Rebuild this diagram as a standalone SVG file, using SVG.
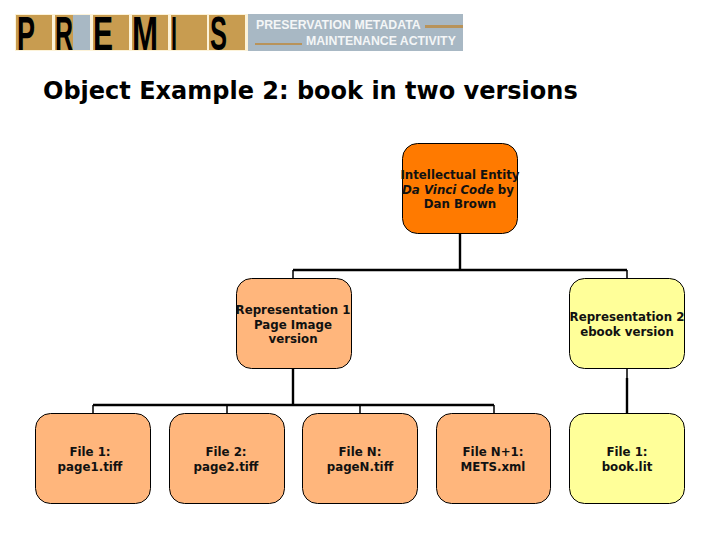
<svg xmlns="http://www.w3.org/2000/svg" width="720" height="540" viewBox="0 0 720 540">
<style>
.t{font-family:"DejaVu Sans",Verdana,sans-serif;font-weight:700;font-size:11.8px;text-anchor:middle;fill:#111}
.n{stroke:#000;stroke-width:1}
.a{fill:#ff7a00}.b{fill:#ffb67c}.c{fill:#ffff99}
.w{fill:none;stroke:#000;stroke-width:2.4}
.s{fill:none;stroke:#000;stroke-width:1.5}
.k{fill:#c89c50}.g{fill:#a8b8c4}
.l{font-family:"Liberation Sans",sans-serif;font-weight:700;fill:#000;font-size:48px}
.h{font-family:"Liberation Sans",Arial,sans-serif;font-weight:700;font-size:12.3px;fill:#f4f6f7}
</style>
<rect width="720" height="540" fill="#fff"/>
<g id="logo">
<rect x="15" y="14" width="233" height="37" fill="#fdf3d8"/>
<rect class="k" x="16" y="15" width="36" height="35"/>
<rect class="k" x="55" y="15" width="18" height="35"/>
<rect class="g" x="73" y="15" width="17" height="35"/>
<rect class="k" x="93" y="15" width="36" height="35"/>
<rect class="k" x="132" y="15" width="36" height="35"/>
<rect class="k" x="171" y="15" width="36" height="35"/>
<rect class="k" x="209" y="15" width="36" height="35"/>
<rect class="g" x="248" y="14" width="215" height="37"/>
<text class="l" x="17" y="50" textLength="18" lengthAdjust="spacingAndGlyphs">P</text>
<text class="l" x="55" y="50" textLength="18" lengthAdjust="spacingAndGlyphs">R</text>
<text class="l" x="93" y="50" textLength="20" lengthAdjust="spacingAndGlyphs">E</text>
<text class="l" x="132" y="50" textLength="26" lengthAdjust="spacingAndGlyphs">M</text>
<text class="l" x="171" y="50" textLength="6" lengthAdjust="spacingAndGlyphs">I</text>
<text class="l" x="210" y="50" textLength="17" lengthAdjust="spacingAndGlyphs">S</text>
<text class="h" x="256" y="29">PRESERVATION METADATA</text>
<text class="h" x="306" y="45">MAINTENANCE ACTIVITY</text>
<rect x="425" y="25" width="38" height="3" fill="#b8935a"/>
<rect x="255" y="43" width="47" height="2" fill="#b8935a"/>
</g>
<text id="title" x="43" y="99" font-family="DejaVu Sans,Verdana,sans-serif" font-weight="700" font-size="24px" fill="#000">Object Example 2: book in two versions</text>
<g id="connectors">
<path class="w" d="M460 233V270M293 270H627M293 368V405M93 405H494M627 378V413"/>
<path class="s" d="M293 270V278M627 270V278M93 405V413M227 405V413M360 405V413M494 405V413M627 369V378"/>
</g>
<g id="n0"><rect class="n a" x="402.500" y="143.500" width="115" height="90" rx="15"/><text class="t" x="460" y="179">Intellectual Entity</text><text class="t" x="458" y="194"><tspan font-style="italic">Da Vinci Code</tspan> by</text><text class="t" x="460" y="208">Dan Brown</text></g>
<g id="n1"><rect class="n b" x="236.500" y="278.500" width="115" height="90" rx="15"/><text class="t" x="293" y="314">Representation 1</text><text class="t" x="293" y="329">Page Image</text><text class="t" x="293" y="343">version</text></g>
<g id="n2"><rect class="n c" x="569.500" y="278.500" width="115" height="90" rx="15"/><text class="t" x="627" y="321">Representation 2</text><text class="t" x="627" y="336">ebook version</text></g>
<g id="f1"><rect class="n b" x="35.500" y="413.500" width="115" height="90" rx="15"/><text class="t" x="90" y="456">File 1:</text><text class="t" x="90" y="471">page1.tiff</text></g>
<g id="f2"><rect class="n b" x="169.500" y="413.500" width="115" height="90" rx="15"/><text class="t" x="226" y="456">File 2:</text><text class="t" x="226" y="471">page2.tiff</text></g>
<g id="f3"><rect class="n b" x="302.500" y="413.500" width="115" height="90" rx="15"/><text class="t" x="360" y="456">File N:</text><text class="t" x="360" y="471">pageN.tiff</text></g>
<g id="f4"><rect class="n b" x="436.500" y="413.500" width="114" height="90" rx="15"/><text class="t" x="493" y="456">File N+1:</text><text class="t" x="493" y="471">METS.xml</text></g>
<g id="f5"><rect class="n c" x="569.500" y="413.500" width="115" height="90" rx="15"/><text class="t" x="627" y="456">File 1:</text><text class="t" x="627" y="471">book.lit</text></g>
</svg>
